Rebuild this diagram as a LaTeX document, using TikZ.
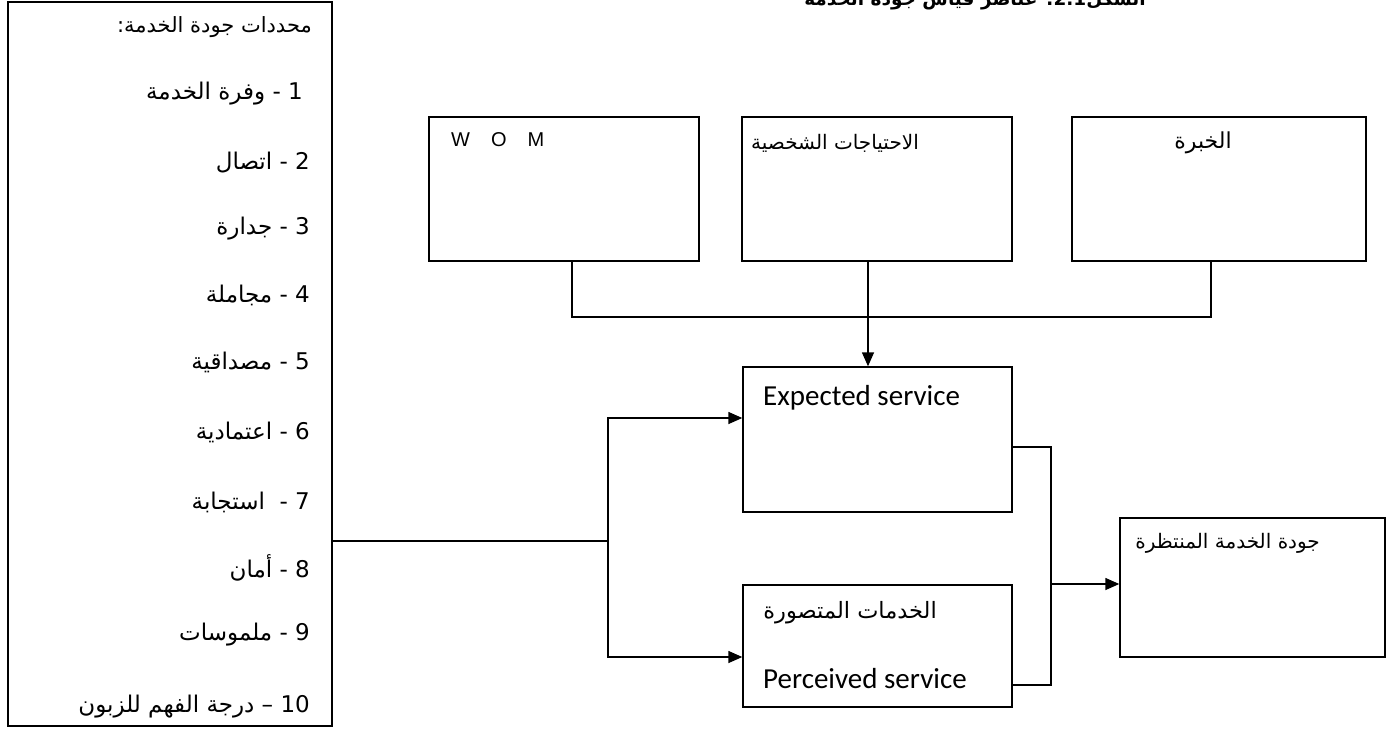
\documentclass[tikz,border=0pt]{standalone}
\usepackage{fontspec}
\usetikzlibrary{arrows.meta}
\TeXXeTstate=1
\newfontfamily\arabicfont[Script=Arabic]{DejaVu Sans}
\newfontfamily\calibfont{Carlito}
\newfontfamily\arialfont{Liberation Sans}
\newcommand{\rtl}[1]{\beginR #1\endR}

\tikzset{
  frame/.style={draw, line width=1.4pt, rectangle, inner sep=0pt},
  link/.style={line width=1.4pt},
  arr/.style={link, -{Triangle[length=14pt,width=12pt]}},
  item/.style={inner sep=0pt, anchor=mid east, font=\arabicfont\fontsize{23}{27}\selectfont},
  label/.style={inner sep=0pt},
}

\begin{document}
\begin{tikzpicture}[x=1pt,y=-1pt]
\useasboundingbox (0,0) rectangle (1391,731);
\fill[white] (0,0) rectangle (1391,731);
\clip (0,0) rectangle (1391,731);

% heading, cut by the top edge of the page
\node[inner sep=0pt, anchor=base, font=\arabicfont\bfseries\fontsize{18.5}{22}\selectfont] (title) at (975,5)
  {\rtl{الشكل\beginL 2.1\endL: عناصر قياس جودة الخدمة}};

% list of service quality determinants
\node[frame, minimum width=324pt, minimum height=724pt] (list) at (170,364) {};
\node[item, font=\arabicfont\fontsize{21}{25}\selectfont] (l0) at (312,30) {\rtl{محددات جودة الخدمة:}};
\node[item] (l1)  at (303,97)  {\rtl{\beginL 1\endL{} - وفرة الخدمة}};
\node[item] (l2)  at (310,167) {\rtl{\beginL 2\endL{} - اتصال}};
\node[item] (l3)  at (310,232) {\rtl{\beginL 3\endL{} - جدارة}};
\node[item] (l4)  at (310,300) {\rtl{\beginL 4\endL{} - مجاملة}};
\node[item] (l5)  at (310,367) {\rtl{\beginL 5\endL{} - مصداقية}};
\node[item] (l6)  at (310,437) {\rtl{\beginL 6\endL{} - اعتمادية}};
\node[item] (l7)  at (310,507) {\rtl{\beginL 7\endL{} -\ \ استجابة}};
\node[item] (l8)  at (310,575) {\rtl{\beginL 8\endL{} - أمان}};
\node[item] (l9)  at (310,638) {\rtl{\beginL 9\endL{} - ملموسات}};
\node[item] (l10) at (310,710) {\rtl{\beginL 10\endL{} – درجة الفهم للزبون}};

% sources of expectations
\node[frame, minimum width=270pt, minimum height=144pt] (wom)   at (564,189) {};
\node[frame, minimum width=270pt, minimum height=144pt] (needs) at (877,189) {};
\node[frame, minimum width=294pt, minimum height=144pt] (exper) at (1219,189) {};
\node[label, anchor=base west, font=\arialfont\fontsize{20}{24}\selectfont] (womt) at (451,146)
  {W\hspace{21pt}O\hspace{21pt}M};
\node[label, font=\arabicfont\fontsize{20}{24}\selectfont] (needst) at (835,143) {\rtl{الاحتياجات الشخصية}};
\node[label, font=\arabicfont\fontsize{22}{26}\selectfont] (expert) at (1203,143) {\rtl{الخبرة}};

% expected / perceived service and result
\node[frame, minimum width=269pt, minimum height=145pt] (expected)  at (877.5,439.5) {};
\node[frame, minimum width=269pt, minimum height=122pt] (perceived) at (877.5,646) {};
\node[frame, minimum width=265pt, minimum height=139pt] (result)    at (1252.5,587.5) {};
\node[label, anchor=base west, font=\calibfont\fontsize{29}{33}\selectfont] (expt) at (763,405) {Expected service};
\node[label, anchor=base east, font=\arabicfont\fontsize{22.5}{27}\selectfont] (perca) at (937,618) {\rtl{الخدمات المتصورة}};
\node[label, anchor=base west, font=\calibfont\fontsize{29}{33}\selectfont] (perct) at (763,688) {Perceived service};
\node[label, anchor=base east, font=\arabicfont\fontsize{20}{24}\selectfont] (rest) at (1320,548) {\rtl{جودة الخدمة المنتظرة}};

% connectors
\coordinate (busL) at (572,317);
\coordinate (busR) at (1211,317);
\coordinate (drop) at (868,317);
\draw[link] (wom.south -| busL) -- (busL) -- (busR) -- (exper.south -| busR);
\draw[arr] (needs.south -| drop) -- (expected.north -| drop);

\coordinate (fork) at (608,541);
\coordinate (forkTop) at (608,418);
\coordinate (forkBot) at (608,657);
\draw[link] (list.east |- fork) -- (fork);
\draw[arr] (fork) |- (expected.west |- forkTop);
\draw[arr] (fork) |- (perceived.west |- forkBot);

\coordinate (jTop) at (1051,447);
\coordinate (jBot) at (1051,685);
\coordinate (join) at (1051,584);
\draw[link] (expected.east |- jTop) -- (jTop) -- (jBot) -- (perceived.east |- jBot);
\draw[arr] (join) -- (result.west |- join);
\end{tikzpicture}
\end{document}
